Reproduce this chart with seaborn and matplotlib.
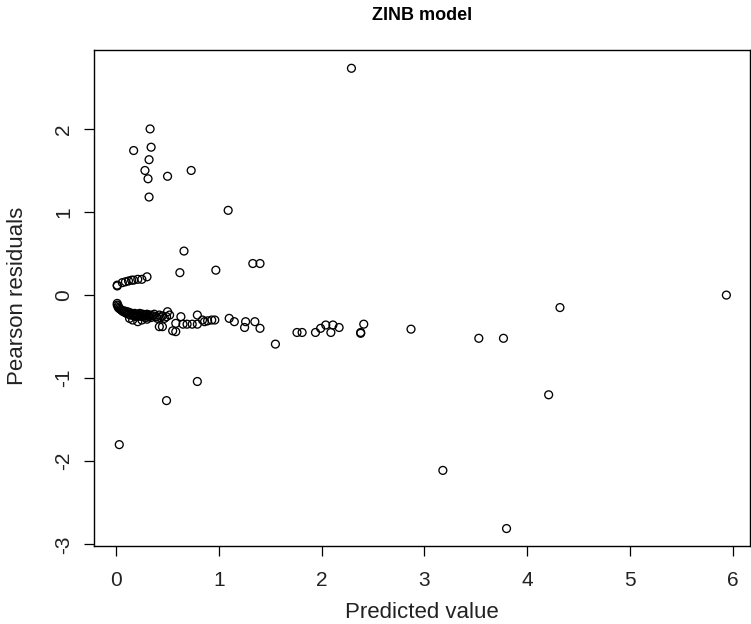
import numpy as np
import pandas as pd
import matplotlib
matplotlib.use("Agg")
import matplotlib.pyplot as plt
import seaborn as sns

sns.set_style("white")
plt.rcParams['font.family'] = ['Liberation Sans', 'DejaVu Sans']

# ---- data ----
# high positive residuals
pred_high = [0.33, 0.17, 0.34, 0.32, 0.28, 0.31, 0.50, 0.73, 0.32, 1.09, 0.66, 0.62, 0.97, 1.33, 1.40, 2.29]
resid_high = [2.00, 1.74, 1.78, 1.63, 1.50, 1.40, 1.43, 1.50, 1.18, 1.02, 0.53, 0.27, 0.30, 0.38, 0.38, 2.73]

# small positive residuals near zero prediction
pred_pos = [0.01, 0.01, 0.06, 0.09, 0.12, 0.15, 0.17, 0.21, 0.25, 0.30]
resid_pos = [0.12, 0.11, 0.15, 0.16, 0.17, 0.18, 0.18, 0.19, 0.19, 0.22]

# dense band of small negative residuals
pred_band = [0.01, 0.01, 0.02, 0.02, 0.03, 0.04, 0.05, 0.06, 0.07, 0.08, 0.09, 0.10,
             0.11, 0.12, 0.13, 0.14, 0.15, 0.16, 0.17, 0.18, 0.19, 0.20, 0.21, 0.22,
             0.23, 0.24, 0.25, 0.26, 0.27, 0.28, 0.29, 0.30, 0.31, 0.32, 0.33, 0.34,
             0.36, 0.37, 0.39, 0.40, 0.42, 0.43, 0.45, 0.47, 0.49, 0.52,
             0.13, 0.16, 0.21, 0.25, 0.30]
resid_band = [-0.10, -0.12, -0.13, -0.15, -0.16, -0.17, -0.18, -0.19, -0.20, -0.19, -0.21, -0.22,
              -0.20, -0.23, -0.21, -0.24, -0.22, -0.23, -0.25, -0.22, -0.24, -0.26, -0.23, -0.25,
              -0.22, -0.24, -0.26, -0.23, -0.25, -0.24, -0.27, -0.23, -0.25, -0.26, -0.24, -0.27,
              -0.25, -0.23, -0.26, -0.28, -0.24, -0.27, -0.25, -0.28, -0.26, -0.24,
              -0.28, -0.30, -0.32, -0.30, -0.29]

# middle cluster
pred_mid = [0.50, 0.63, 0.79, 0.89, 0.96, 1.10, 0.58, 0.65, 0.69, 0.74, 0.79, 0.42, 0.45,
            0.58, 0.55, 0.86, 0.84, 0.93, 1.15, 1.26, 1.25, 1.35, 1.40, 1.55, 1.76, 1.81,
            1.94, 1.99, 2.04, 2.09, 2.11, 2.17, 2.41, 2.38, 2.38, 2.87]
resid_mid = [-0.20, -0.26, -0.24, -0.31, -0.30, -0.28, -0.34, -0.35, -0.35, -0.35, -0.35, -0.38, -0.38,
             -0.44, -0.43, -0.32, -0.30, -0.30, -0.32, -0.32, -0.39, -0.32, -0.40, -0.59, -0.45, -0.45,
             -0.45, -0.40, -0.36, -0.45, -0.36, -0.39, -0.35, -0.45, -0.46, -0.41]

# remaining outliers
pred_out = [3.53, 3.77, 4.32, 5.94, 4.21, 3.18, 3.80, 0.79, 0.49, 0.03]
resid_out = [-0.52, -0.52, -0.15, 0.00, -1.20, -2.11, -2.81, -1.04, -1.27, -1.80]

x_ticks = [0, 1, 2, 3, 4, 5, 6]
y_ticks = [-3, -2, -1, 0, 1, 2]

df = pd.DataFrame({
    "pred": pred_high + pred_pos + pred_band + pred_mid + pred_out,
    "resid": resid_high + resid_pos + resid_band + resid_mid + resid_out,
})

W, H = 751, 624
fig = plt.figure(figsize=(W / 100, H / 100), dpi=100)
ax = fig.add_axes([94 / W, (H - 546) / H, (750 - 94) / W, (546 - 50) / H])

sns.scatterplot(data=df, x="pred", y="resid", ax=ax, marker="o", s=32,
                facecolor="none", edgecolor="black", linewidth=0.95)

ax.set_xlim(-0.216, 6.17)
ax.set_ylim(-3.02, 2.95)
ax.set_xticks(x_ticks)
ax.set_yticks(y_ticks)
ax.set_xticklabels([str(t) for t in x_ticks])
ax.set_yticklabels([str(t) for t in y_ticks])
ax.tick_params(axis='x', direction='out', length=7, width=0.9, colors='black',
               labelsize=15, pad=11, bottom=True, labelcolor='#222222')
ax.tick_params(axis='y', direction='out', length=7, width=0.9, colors='black',
               labelsize=15, pad=8, left=True, labelcolor='#222222')
for lab in ax.get_yticklabels():
    lab.set_rotation(90)
    lab.set_va('center')
    lab.set_ha('right')
for sp in ax.spines.values():
    sp.set_color('black')
    sp.set_linewidth(1.0)
    sp.set_visible(True)
ax.set_xlabel("")
ax.set_ylabel("")
ax.grid(False)

fig.text(422 / W, 1 - 612 / H, "Predicted value", ha='center', va='center', fontsize=16, color='#222222')
fig.text(18 / W, 1 - 296 / H, "Pearson residuals", ha='center', va='center', rotation=90,
         fontsize=16, color='#222222')
fig.text(422 / W, 1 - 15 / H, "ZINB model", ha='center', va='center', fontsize=13,
         fontweight='bold', color='black')

fig.savefig("out.png", dpi=100, facecolor='white')
